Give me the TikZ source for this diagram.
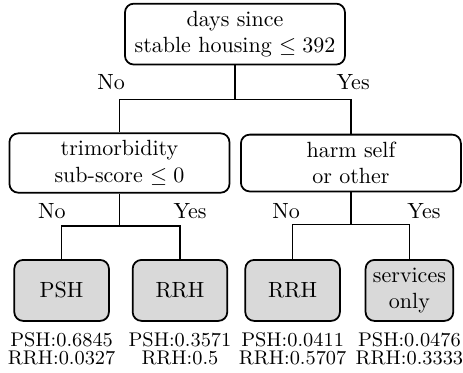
\documentclass[tikz,border=0pt]{standalone}
\usetikzlibrary{positioning,calc}
\tikzset{
  split/.style={
    rectangle,
    rounded corners,
    draw=black, thick,
    minimum width=100pt,
    align=center},
  leaf/.style={
    rectangle,
    rounded corners,
    fill=gray!30,
    draw=black, thick,
    minimum width=43pt,
    minimum height=27.7pt,
    align=center},
  prob/.style={align=center, inner sep=1pt, font=\fontsize{9}{8.6}\selectfont},
  branch/.style={draw, thick},
  answer/.style={anchor=base},
}
\begin{document}
\begin{tikzpicture}
  \useasboundingbox (0,0) rectangle (210.45pt,-169.1pt);
  % the splits
  \node[split] (days) at (106.8pt,-15.5pt) {days since\\stable housing $\leq 392$};
  \node[split] (trim) at (54.3pt,-74.1pt) {trimorbidity\\sub-score $\leq 0$};
  \node[split] (harm) at (159.5pt,-74.1pt) {harm self\\or other};
  % the leaves
  \node[leaf] (psh) at (28pt,-132pt) {PSH};
  \node[leaf] (rrhA) at (81.8pt,-132pt) {RRH};
  \node[leaf] (rrhB) at (133pt,-132pt) {RRH};
  \node[leaf, minimum width=39pt] (serv) at (186.1pt,-132pt) {services\\only};
  %% probabilities under each leaf
  \node[prob, below=3.5pt of psh] (probA) {PSH:0.6845\\RRH:0.0327};
  \node[prob, below=3.5pt of rrhA] (probB) {PSH:0.3571\\RRH:0.5};
  \node[prob, below=3.5pt of rrhB] (probC) {PSH:0.0411\\RRH:0.5707};
  \node[prob, below=3.5pt of serv] (probD) {PSH:0.0476\\RRH:0.3333};
  % Now the branches
  \draw[branch] (days.south) -- ++(0,-15.5pt) coordinate (j0) -| (trim.north);
  \draw[branch] (j0) -| (harm.north);
  \draw[branch] (trim.south) -- ++(0,-14.6pt) coordinate (j1) -| (psh.north);
  \draw[branch] (j1) -| (rrhA.north);
  \draw[branch] (harm.south) -- ++(0,-14.6pt) coordinate (j2) -| (rrhB.north);
  \draw[branch] (j2) -| (serv.north);
  %% answers
  \node[answer] (no0) at (50.5pt,-40.9pt) {No};
  \node[answer] (yes0) at (160.5pt,-40.9pt) {Yes};
  \node[answer] (no1) at (23.6pt,-99.2pt) {No};
  \node[answer] (yes1) at (86.4pt,-99.2pt) {Yes};
  \node[answer] (no2) at (130pt,-99.2pt) {No};
  \node[answer] (yes2) at (192.7pt,-99.2pt) {Yes};
\end{tikzpicture}
\end{document}
